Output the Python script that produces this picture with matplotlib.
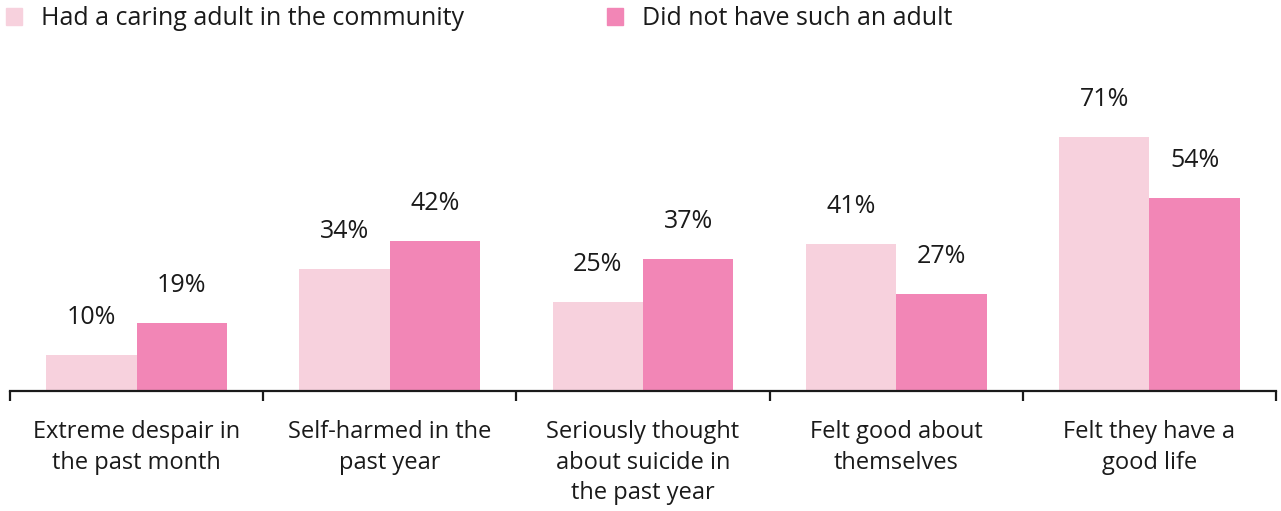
import numpy as np
import matplotlib.pyplot as plt
from matplotlib.patches import Patch

categories = ["Extreme despair in\nthe past month",
              "Self-harmed in the\npast year",
              "Seriously thought\nabout suicide in\nthe past year",
              "Felt good about\nthemselves",
              "Felt they have a\ngood life"]
had_adult = [10, 34, 25, 41, 71]
no_adult = [19, 42, 37, 27, 54]
series_names = ["Had a caring adult in the community", "Did not have such an adult"]

light = "#F7D1DD"
dark = "#F286B6"

plt.rcParams["font.family"] = ["Open Sans", "DejaVu Sans"]
fig = plt.figure(figsize=(12.81, 5.11), dpi=100)
ax = fig.add_axes([10 / 1281, 120 / 511, 1266 / 1281, 340 / 511])

x = np.arange(len(categories))
w = 0.357
b1 = ax.bar(x - w / 2, had_adult, w, color=light)
b2 = ax.bar(x + w / 2, no_adult, w, color=dark)

for bars, vals in [(b1, had_adult), (b2, no_adult)]:
    for r, v in zip(bars, vals):
        ax.annotate(f"{v}%", (r.get_x() + r.get_width() / 2, v),
                    xytext=(0, 27), textcoords="offset points",
                    ha="center", va="center", fontsize=18, color="#1a1a1a")

ax.set_xlim(-0.5, len(categories) - 0.5)
ax.set_ylim(0, 340 / 3.58)

for s in ["top", "right", "left"]:
    ax.spines[s].set_visible(False)
ax.spines["bottom"].set_linewidth(1.6)
ax.spines["bottom"].set_color("#1a1a1a")
ax.set_yticks([])

ax.set_xticks(x)
ax.set_xticklabels(categories, fontsize=17, color="#1a1a1a", linespacing=1.37)
ax.tick_params(axis="x", which="major", length=0, pad=21)
ax.set_xticks(np.arange(len(categories) + 1) - 0.5, minor=True)
ax.tick_params(axis="x", which="minor", length=7, width=1.6, color="#1a1a1a")

handles = [Patch(color=light), Patch(color=dark)]
fig.legend(handles, series_names, loc="upper left", bbox_to_anchor=(6 / 1281, 1 - 6 / 511),
           ncol=2, frameon=False, fontsize=18, handlelength=0.65, handleheight=0.65,
           handletextpad=0.75, columnspacing=5.7, labelcolor="#1a1a1a",
           borderpad=0, borderaxespad=0)

fig.savefig("out.png", dpi=100)
